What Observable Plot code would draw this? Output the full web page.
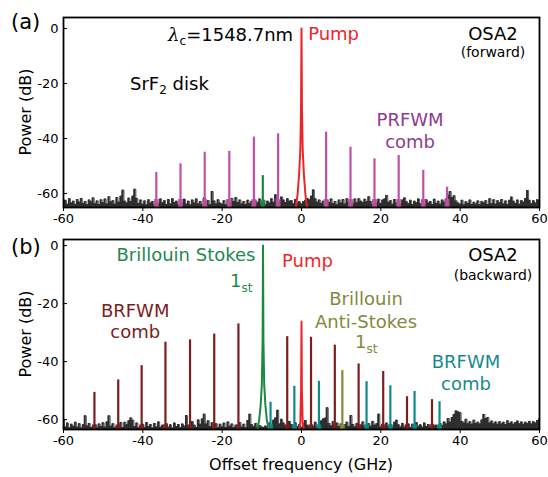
<!DOCTYPE html>
<html><head><meta charset="utf-8">
<script src="https://cdn.jsdelivr.net/npm/d3@7"></script>
<script src="https://cdn.jsdelivr.net/npm/@observablehq/plot@0.6"></script>
<style>
body{margin:0;background:#fff;font-family:"DejaVu Sans",sans-serif}
#wrap{position:relative;width:548px;height:477px;overflow:hidden}
#wrap svg{position:absolute;left:0;overflow:visible}
</style></head><body><div id="wrap"></div>
<script>
// ---------- DATA ----------
const xTicks = [-60, -40, -20, 0, 20, 40, 60];
const yTicks = [0, -20, -40, -60];
const noiseStart = -60, noiseStep = 0.5;

// (a) forward: noise floor sampled every 0.5 GHz from -60 to 60
const noiseA = [
-63.8,-62.5,-63.9,-61.9,-63.5,-62.8,-64.0,-62.2,-63.2,-61.8,-63.6,-62.9,-64.1,-62.4,-63.0,-61.6,-63.7,-62.7,-64.0,-62.3,
-63.4,-62.0,-63.8,-61.2,-63.1,-62.6,-63.9,-61.5,-63.2,-61.0,-58.8,-62.8,-63.5,-61.7,-62.9,-61.0,-58.5,-61.8,-63.6,-62.4,
-63.9,-62.7,-64.1,-62.3,-63.5,-62.9,-64.2,-63.0,-63.7,-62.0,-63.4,-62.6,-64.0,-62.2,-63.8,-61.9,-63.3,-62.8,-64.1,-62.5,
-63.6,-62.1,-63.9,-62.8,-64.2,-62.4,-63.5,-62.0,-63.8,-62.9,-64.0,-61.6,-63.4,-62.6,-64.1,-59.3,-62.7,-63.8,-62.3,-63.5,
-63.9,-62.6,-64.1,-62.2,-63.4,-61.8,-62.9,-61.5,-63.3,-62.4,-63.8,-62.9,-64.0,-62.5,-63.6,-62.8,-64.1,-62.7,-63.4,-62.0,
-63.7,-62.5,-64.0,-62.8,-63.5,-61.9,-63.2,-60.5,-63.6,-62.7,-61.3,-62.4,-63.3,-61.9,-62.8,-62.6,-63.7,-62.2,-63.5,-63.0,
-63.8,-63.0,-62.5,-61.8,-62.3,-61.0,-58.7,-61.9,-63.2,-62.4,-63.6,-62.8,-64.0,-62.5,-63.3,-62.0,-63.7,-62.9,-64.1,-62.4,
-63.5,-62.2,-63.8,-61.9,-63.1,-62.7,-63.9,-62.0,-63.4,-61.9,-62.8,-63.3,-62.1,-63.0,-61.2,-62.9,-63.9,-62.3,-63.5,-62.1,
-63.6,-62.4,-62.0,-60.7,-63.2,-62.6,-63.9,-62.2,-63.5,-62.7,-63.8,-62.4,-61.6,-63.0,-63.7,-62.5,-64.0,-62.8,-63.4,-62.0,
-63.7,-62.6,-63.9,-62.3,-63.5,-62.9,-64.0,-62.1,-63.6,-62.8,-63.9,-62.4,-63.2,-62.0,-60.6,-59.3,-61.5,-60.8,-62.7,-63.5,
-63.9,-62.5,-64.1,-63.0,-63.6,-62.4,-64.0,-63.2,-63.8,-62.7,-64.1,-62.9,-63.5,-62.6,-64.0,-61.9,-63.7,-62.3,-63.9,-62.6,
-63.4,-62.2,-63.8,-62.7,-64.0,-62.5,-61.3,-62.8,-63.6,-62.4,-63.9,-62.6,-63.2,-61.8,-58.9,-62.5,-63.7,-62.6,-63.5,-62.3,
-62.5];
const combAFreq = [-36.6, -30.5, -24.4, -18.2, -12.0, -5.9, 6.2, 12.35, 18.4, 24.5, 30.7, 36.7];
const combAPow  = [-52.4, -49.2, -45.0, -44.7, -39.5, -38.3, -37.7, -43.2, -47.4, -46.2, -51.6, -57.7];
const stokesAFreq = [-9.75];
const stokesAPow  = [-53.5];
const pumpAFreq = [-1.4, -1.0, -0.6, -0.3, -0.12, 0, 0.12, 0.3, 0.6, 1.0, 1.4];
const pumpAPow  = [-65.0, -60.5, -53.0, -44.0, -30.0, 0, -30.0, -44.0, -53.0, -60.5, -65.0];

// (b) backward
const noiseB = [
-59.8,-62.5,-61.2,-62.8,-61.6,-62.3,-60.9,-62.6,-61.4,-62.9,-61.8,-58.7,-62.2,-61.3,-62.7,-62.4,-61.9,-62.8,-61.5,-62.4,
-61.1,-62.6,-60.8,-58.7,-62.3,-61.4,-62.8,-62.1,-62.5,-61.0,-62.7,-60.9,-61.8,-60.4,-59.4,-60.2,-62.4,-61.2,-62.8,-62.3,
-61.6,-62.7,-61.0,-62.4,-61.7,-62.9,-61.3,-62.5,-60.8,-62.6,-61.9,-62.8,-61.4,-62.6,-61.8,-62.9,-61.2,-62.4,-61.7,-62.8,
-61.5,-62.3,-58.6,-62.1,-62.6,-60.7,-61.9,-62.7,-60.1,-61.6,-59.8,-58.1,-61.5,-60.4,-62.4,-61.1,-62.6,-61.4,-62.8,-61.6,
-62.5,-61.2,-62.7,-60.8,-62.3,-61.5,-62.8,-61.9,-62.5,-61.0,-62.6,-61.6,-62.8,-60.3,-58.1,-61.7,-62.4,-61.3,-62.6,-62.0,
-62.5,-62.7,-62.2,-62.6,-61.2,-62.4,-60.2,-59.4,-56.8,-61.5,-59.9,-61.2,-62.0,-62.5,-60.6,-61.7,-62.3,-61.1,-62.4,-61.8,
-62.6,-61.4,-60.3,-61.9,-62.5,-61.8,-62.4,-60.9,-62.6,-61.7,-60.5,-59.8,-59.5,-55.9,-61.3,-62.2,-60.7,-62.5,-61.2,-62.4,
-61.5,-62.6,-61.8,-60.9,-62.4,-58.6,-61.7,-62.5,-61.3,-62.6,-61.9,-60.8,-62.2,-62.6,-61.4,-62.3,-60.6,-61.9,-61.4,-58.1,
-62.5,-61.6,-62.7,-61.2,-62.3,-61.7,-62.6,-60.9,-60.2,-61.8,-62.5,-61.3,-62.6,-62.0,-61.5,-62.7,-61.6,-62.4,-61.0,-62.3,
-61.8,-62.6,-61.2,-62.4,-61.7,-62.7,-61.5,-62.2,-61.9,-62.6,-61.3,-62.0,-60.8,-61.5,-59.6,-60.9,-59.3,-58.2,-57.0,-57.3,
-57.6,-60.6,-61.2,-59.9,-61.4,-60.7,-61.6,-60.2,-61.3,-60.9,-61.5,-60.1,-58.2,-59.6,-59.3,-61.2,-60.5,-61.4,-60.8,-61.6,
-60.7,-61.5,-60.9,-61.7,-60.4,-61.3,-60.8,-61.6,-61.0,-60.5,-61.4,-60.8,-61.6,-60.9,-61.3,-60.6,-61.5,-60.7,-61.2,-60.3,
-59.8];
const redCombBFreq = [-52.2, -46.2, -40.3, -34.3, -28.1, -22.0, -15.9, -3.6, 2.4, 8.4, 14.4, 20.6, 26.6, 32.9];
const redCombBPow  = [-50.6, -46.3, -41.4, -33.3, -32.5, -30.5, -27.0, -31.4, -31.6, -34.3, -40.8, -43.4, -52.1, -53.1];
const tealCombBFreq = [-7.8, -1.8, 4.4, 16.4, 22.4, 28.5, 34.8];
const tealCombBPow  = [-54.0, -48.5, -46.8, -46.9, -48.3, -50.3, -53.8];
const antiStokesBFreq = [10.3];
const antiStokesBPow  = [-43.1];
const stokesBFreq = [-11.2, -10.7, -10.3, -10.0, -9.8, -9.7, -9.6, -9.4, -9.1, -8.7, -8.2];
const stokesBPow  = [-63.5, -60.5, -55.0, -48.0, -32.0, 0, -32.0, -48.0, -55.0, -60.5, -63.5];
const pumpBFreq = [-0.6, -0.3, -0.1, 0, 0.1, 0.3, 0.6];
const pumpBPow  = [-63.5, -61.0, -50.0, -26.2, -50.0, -61.0, -63.5];

// ---------- STYLE ----------
const C = {
  noise: "#2e2e2e", purple: "#c24fa6", purpleText: "#8e3a90", green: "#1b8a40", greenText: "#228a4c",
  red: "#ee2528", darkred: "#7b1e20", teal: "#10898a", tealText: "#18898b", olive: "#878a38", oliveText: "#85883c"
};
const font = '"DejaVu Sans", sans-serif';

const rows = (fs, ps) => fs.map((f, i) => ({f, p: ps[i]}));
const noiseRows = arr => arr.map((p, i) => ({f: noiseStart + i * noiseStep, p}));

function basePlot({yDomain, height, marginTop, marginBottom, marks}) {
  return Plot.plot({
    width: 548, height, marginLeft: 63, marginRight: 9, marginTop, marginBottom,
    style: {fontFamily: font, fontSize: "13px", color: "#000", background: "transparent", overflow: "visible"},
    x: {domain: [-60, 60]},
    y: {domain: yDomain},
    marks: [
      ...marks,
      Plot.axisX({ticks: xTicks, tickFormat: d => String(d), tickSize: 4, tickPadding: 2, label: null, fontSize: 13}),
      Plot.axisY({ticks: yTicks, tickFormat: d => String(d), tickSize: -4, tickPadding: 9, label: null, fontSize: 13}),
      Plot.frame({stroke: "#000", strokeWidth: 1.8})
    ]
  });
}

function spectrumMarks(yMin, noise, combs, shapes) {
  const m = [
    Plot.areaY(noiseRows(noise), {x: "f", y1: yMin, y2: "p", fill: C.noise, curve: "step", clip: true}),
    Plot.lineY(noiseRows(noise), {x: "f", y: "p", stroke: C.noise, strokeWidth: 0.8, curve: "step", clip: true})
  ];
  for (const c of combs) {
    const r = rows(c.f, c.p);
    m.push(Plot.ruleX(r, {x: "f", y1: yMin, y2: c.skirt, stroke: c.color, strokeWidth: 5, strokeOpacity: 0.85, clip: true}));
    m.push(Plot.ruleX(r, {x: "f", y1: yMin, y2: "p", stroke: c.color, strokeWidth: 2.2, clip: true}));
  }
  for (const s of shapes) {
    m.push(Plot.line(rows(s.f, s.p), {x: "f", y: "p", stroke: s.color, strokeWidth: 2, clip: true}));
  }
  return m;
}

function addText(svg, plot, items) {
  const xs = plot.scale("x"), ys = plot.scale("y");
  const g = d3.select(svg);
  for (const it of items) {
    const t = g.append("text")
      .attr("x", it.px != null ? it.px : xs.apply(it.x))
      .attr("y", it.py != null ? it.py : ys.apply(it.y))
      .attr("text-anchor", it.anchor || "start")
      .attr("fill", it.color || "#000")
      .style("font-family", font)
      .style("font-size", (it.size || 18) + "px");
    for (const part of it.parts) {
      const sp = t.append("tspan").text(part.t);
      if (part.sub) sp.style("font-size", "12px").attr("dy", part.dy || 5);
      if (part.after) sp.attr("dy", part.after);
      if (part.family) sp.style("font-family", part.family);
      if (part.italic) sp.style("font-style", "italic");
    }
  }
}

const wrap = document.getElementById("wrap");

// ---------- PANEL (a) ----------
const yA = [-65.1, 4];
const plotA = basePlot({
  yDomain: yA, height: 230, marginTop: 17, marginBottom: 23,
  marks: spectrumMarks(yA[0], noiseA,
    [{f: combAFreq, p: combAPow, color: C.purple, skirt: -62.2},
     {f: stokesAFreq, p: stokesAPow, color: C.green, skirt: -62.5}],
    [{f: pumpAFreq, p: pumpAPow, color: C.red}])
});
plotA.style.top = "0px";
wrap.appendChild(plotA);
addText(plotA, plotA, [
  {px: 11, py: 29, size: 21, parts: [{t: "(a)"}]},
  {x: -33.5, y: -4.8, parts: [{t: "λ", family: '"DejaVu Serif", serif', italic: true}, {t: "c", sub: true, dy: 4}, {t: "=1548.7nm", after: -4}]},
  {x: 1.8, y: -4.4, color: C.red, parts: [{t: "Pump"}]},
  {x: 48.4, y: -4.4, anchor: "middle", parts: [{t: "OSA2"}]},
  {x: 48.4, y: -10.6, anchor: "middle", size: 14, parts: [{t: "(forward)"}]},
  {x: -43.1, y: -22.6, parts: [{t: "SrF"}, {t: "2", sub: true, dy: 4}, {t: " disk", after: -4}]},
  {x: 27.5, y: -35.8, anchor: "middle", color: C.purpleText, parts: [{t: "PRFWM"}]},
  {x: 27.5, y: -43.8, anchor: "middle", color: C.purpleText, parts: [{t: "comb"}]}
]);
d3.select(plotA).append("text")
  .attr("transform", "translate(31,112) rotate(-90)").attr("text-anchor", "middle")
  .style("font-family", font).style("font-size", "16px").text("Power (dB)");

// ---------- PANEL (b) ----------
const yB = [-63.4, 2.1];
const plotB = basePlot({
  yDomain: yB, height: 247, marginTop: 9, marginBottom: 48,
  marks: spectrumMarks(yB[0], noiseB,
    [{f: redCombBFreq, p: redCombBPow, color: C.darkred, skirt: -61.8},
     {f: tealCombBFreq, p: tealCombBPow, color: C.teal, skirt: -61.8},
     {f: antiStokesBFreq, p: antiStokesBPow, color: C.olive, skirt: -61.8}],
    [{f: stokesBFreq, p: stokesBPow, color: C.green},
     {f: pumpBFreq, p: pumpBPow, color: C.red}])
});
plotB.style.top = "230px";
wrap.appendChild(plotB);
addText(plotB, plotB, [
  {px: 11, py: 24, size: 21, parts: [{t: "(b)"}]},
  {x: -29.0, y: -5.6, anchor: "middle", color: C.greenText, parts: [{t: "Brillouin Stokes"}]},
  {x: -17.9, y: -14.3, color: C.greenText, parts: [{t: "1"}, {t: "st", sub: true}]},
  {x: -4.8, y: -7.4, color: C.red, parts: [{t: "Pump"}]},
  {x: 48.4, y: -5.6, anchor: "middle", parts: [{t: "OSA2"}]},
  {x: 48.4, y: -12.2, anchor: "middle", size: 14, parts: [{t: "(backward)"}]},
  {x: 16.4, y: -20.7, anchor: "middle", color: C.oliveText, parts: [{t: "Brillouin"}]},
  {x: 16.4, y: -28.6, anchor: "middle", color: C.oliveText, parts: [{t: "Anti-Stokes"}]},
  {x: 13.6, y: -35.5, color: C.oliveText, parts: [{t: "1"}, {t: "st", sub: true}]},
  {x: -41.8, y: -24.8, anchor: "middle", color: C.darkred, parts: [{t: "BRFWM"}]},
  {x: -41.8, y: -32.1, anchor: "middle", color: C.darkred, parts: [{t: "comb"}]},
  {x: 41.6, y: -42.4, anchor: "middle", color: C.tealText, parts: [{t: "BRFWM"}]},
  {x: 41.6, y: -50.0, anchor: "middle", color: C.tealText, parts: [{t: "comb"}]}
]);
d3.select(plotB).append("text")
  .attr("transform", "translate(31,104) rotate(-90)").attr("text-anchor", "middle")
  .style("font-family", font).style("font-size", "16px").text("Power (dB)");
d3.select(plotB).append("text")
  .attr("x", 301).attr("y", 240).attr("text-anchor", "middle")
  .style("font-family", font).style("font-size", "16px").text("Offset frequency (GHz)");
</script></body></html>
